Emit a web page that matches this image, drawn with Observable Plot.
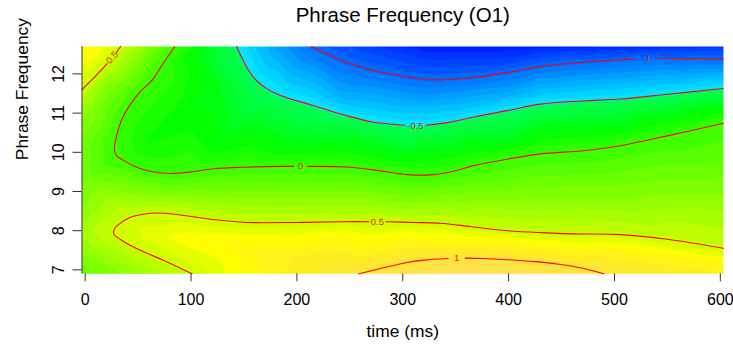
<!DOCTYPE html>
<html><head><meta charset="utf-8">
<script src="https://cdn.jsdelivr.net/npm/d3@7"></script>
<script src="https://cdn.jsdelivr.net/npm/@observablehq/plot@0.6"></script>
<style>
body{margin:0;background:#fff}
svg{font-family:"Liberation Sans",Arial,Helvetica,sans-serif}
</style>
</head><body><div id="chart"></div>
<script>
// ---------- text ----------
const title = "Phrase Frequency (O1)";
const xLabel = "time (ms)";
const yLabel = "Phrase Frequency";
const xTicks = [0, 100, 200, 300, 400, 500, 600];
const yTicks = [7, 8, 9, 10, 11, 12];
const xDomain = [-3, 603];
const yDomain = [6.9, 12.7];
const zLimits = [-1.75, 1.75];

// ---------- contour lines: [time, frequency] ----------
const lineM1a = [[214,12.70],[230,12.48],[246,12.30],[270,12.10],[300,11.94],[329,11.85],[367,11.91],[400,12.04],[430,12.19],[470,12.30],[506,12.36],[519,12.38]];
const lineM1b = [[541,12.40],[570,12.39],[603,12.38]];
const lineM05a = [[143,12.70],[150,12.30],[159,11.91],[170,11.65],[184.5,11.45],[216,11.19],[245,10.95],[270,10.78],[302,10.69]];
const lineM05b = [[322,10.69],[345,10.77],[367,10.90],[400,11.07],[430,11.23],[470,11.31],[506,11.36],[550,11.48],[603,11.63]];
const line0a = [[84.6,12.70],[72,12.20],[63.3,11.84],[52,11.55],[42.8,11.23],[34,10.80],[28.6,10.30],[27.7,10.04],[30,9.90],[36.5,9.79],[46,9.65],[58.6,9.53],[80.6,9.46],[100,9.50],[121.5,9.58],[150,9.62],[184.5,9.64],[197,9.64]];
const line0b = [[210,9.64],[250.6,9.62],[280,9.52],[304,9.43],[329,9.43],[350,9.53],[367,9.66],[400,9.83],[430,9.96],[471,10.04],[500,10.14],[550,10.42],[603,10.74]];
const line05TLa = [[-3,11.60],[10,11.95],[20.8,12.26]];
const line05TLb = [[29.5,12.55],[33.5,12.70]];
const line05a = [[101,6.90],[88,7.07],[74.3,7.24],[58,7.43],[42.8,7.62],[33,7.78],[27,7.92],[27.5,8.04],[30.2,8.13],[42.8,8.34],[55,8.42],[68,8.45],[85,8.42],[105.8,8.34],[130,8.26],[153,8.21],[200,8.21],[241,8.23],[268,8.23]];
const line05b = [[284,8.23],[310,8.21],[335.7,8.19],[365,8.10],[398.6,8.00],[430,7.95],[461.6,7.92],[506,7.90],[550,7.78],[603,7.55]];
const line1a = [[258.5,6.90],[280,7.04],[304,7.19],[320,7.25],[343,7.29]];
const line1b = [[359,7.30],[375,7.29],[398.6,7.26],[425,7.21],[445.9,7.15],[470,7.04],[490,6.90]];

const contourLines = [
  {id: "m1a", level: -1, pts: lineM1a}, {id: "m1b", level: -1, pts: lineM1b},
  {id: "m05a", level: -0.5, pts: lineM05a}, {id: "m05b", level: -0.5, pts: lineM05b},
  {id: "0a", level: 0, pts: line0a}, {id: "0b", level: 0, pts: line0b},
  {id: "tla", level: 0.5, pts: line05TLa}, {id: "tlb", level: 0.5, pts: line05TLb},
  {id: "05a", level: 0.5, pts: line05a}, {id: "05b", level: 0.5, pts: line05b},
  {id: "1a", level: 1, pts: line1a}, {id: "1b", level: 1, pts: line1b}
];

// contour labels
const labelText = ["0.5", "-1", "-0.5", "0", "0.5", "1"];
const labelX = [25.5, 530, 312, 203.5, 276, 351];
const labelY = [12.42, 12.40, 10.68, 9.64, 8.23, 7.30];
const labelAngle = [-47, 0, 0, 0, 0, 0];

// extra surface values: [time, frequency, value]
const fieldExtra = [
  [-3,12.7,0.8],[-3,12.2,0.62],[-3,11.0,0.32],[-3,10.2,0.17],[-3,9.4,0.18],[-3,8.6,0.28],[-3,8.0,0.38],[-3,7.4,0.28],[-3,6.9,0.15],
  [50,6.9,0.33],[10,10.0,0.12],[20,11.8,0.3],[50,12.55,0.3],[10,11.2,0.25],
  [60,7.9,0.6],[100,7.8,0.68],[150,7.6,0.75],[200,7.3,0.85],[180,6.9,0.82],[230,7.7,0.78],[300,7.7,0.78],
  [400,7.6,0.8],[500,7.5,0.76],[560,7.2,0.8],[603,6.9,0.85],[603,7.2,0.72],
  [300,6.9,1.1],[350,6.9,1.16],[420,6.9,1.12],[380,7.1,1.08],
  [100,8.95,0.25],[200,8.9,0.25],[300,8.8,0.25],[400,8.9,0.25],[500,8.95,0.25],[603,9.1,0.25],
  [60,10.3,-0.15],[100,11.0,-0.2],[100,12.5,-0.2],[120,10.0,-0.15],[200,10.2,-0.25],[300,10.1,-0.3],[400,10.4,-0.3],[500,10.8,-0.3],[603,11.2,-0.25],[120,11.8,-0.25],
  [180,12.6,-0.75],[240,11.5,-0.75],[300,11.3,-0.75],[400,11.5,-0.75],[500,11.85,-0.75],[603,12.0,-0.75],
  [260,12.7,-1.15],[330,12.7,-1.32],[420,12.7,-1.3],[520,12.7,-1.25],[603,12.7,-1.2]
];

// ---------- build tables ----------
const lineRows = contourLines.flatMap(c => c.pts.map(([x, y]) => ({id: c.id, level: c.level, x, y})));
const field = lineRows.map(d => ({x: d.x, y: d.y, z: d.level}))
  .concat(fieldExtra.map(([x, y, z]) => ({x, y, z})));
const labels = labelText.map((t, i) => ({text: t, x: labelX[i], y: labelY[i], angle: labelAngle[i]}));

// R topo.colors(50) palette
function hsv(h, s, v) {
  const i = Math.floor(h * 6), f = h * 6 - i;
  const p = v * (1 - s), q = v * (1 - f * s), t = v * (1 - (1 - f) * s);
  const [r, g, b] = [[v,t,p],[q,v,p],[p,v,t],[p,q,v],[t,p,v],[v,p,q]][((i % 6) + 6) % 6];
  return d3.rgb(r * 255, g * 255, b * 255).formatHex();
}
function seq(a, b, n) { return n === 1 ? [a] : d3.range(n).map(i => a + (b - a) * i / (n - 1)); }
function topoColors(n) {
  const j = Math.floor(n / 3), k = Math.floor(n / 3), i = n - j - k;
  const c1 = seq(43/60, 31/60, i).map(h => hsv(h, 1, 1));
  const c2 = seq(23/60, 11/60, j).map(h => hsv(h, 1, 1));
  const hs = seq(10/60, 6/60, k), ss = seq(1, 0.3, k);
  const c3 = hs.map((h, m) => hsv(h, ss[m], 1));
  return c1.concat(c2, c3);
}
const palette = topoColors(50);

const font = '"Liberation Sans",Arial,Helvetica,sans-serif';
const chart = Plot.plot({
  width: 733, height: 345,
  marginLeft: 81.5, marginRight: 10, marginTop: 46, marginBottom: 71.7,
  x: {domain: xDomain},
  y: {domain: yDomain},
  color: {type: "linear", domain: zLimits, clamp: true,
          interpolate: t => palette[Math.max(0, Math.min(49, Math.floor(t * 50)))]},
  style: {fontFamily: font, fontSize: "16px", color: "#000", background: "#fff"},
  marks: [
    Plot.raster(field, {x: "x", y: "y", fill: "z", interpolate: "barycentric",
      x1: xDomain[0], x2: xDomain[1], y1: yDomain[0], y2: yDomain[1], pixelSize: 1}),
    Plot.line(lineRows, {x: "x", y: "y", z: "id", stroke: "#ff0000", strokeWidth: 1.1, curve: "catmull-rom"}),
    Plot.text(labels, {x: "x", y: "y", text: "text", rotate: "angle", fill: "#e02a10", fontSize: 9.5}),
    Plot.ruleX([xDomain[0]], {stroke: "#333", strokeWidth: 1}),
    Plot.axisX({ticks: xTicks, tickSize: 8, tickPadding: 12, fontSize: 16, label: null, stroke: "#333", tickFormat: d => String(d)}),
    Plot.axisY({ticks: yTicks, tickSize: 9, tickFormat: () => "", label: null, stroke: "#333"}),
    Plot.text(yTicks, {x: xDomain[0], y: d => d, text: d => String(d), rotate: -90, dx: -23.5, fontSize: 16, fill: "#000", lineAnchor: "middle"}),
    Plot.text([xLabel], {frameAnchor: "bottom", text: d => d, dy: 62.7, lineAnchor: "bottom", fontSize: 17.4, fill: "#000"}),
    Plot.text([yLabel], {frameAnchor: "left", text: d => d, rotate: -90, dx: -60, lineAnchor: "middle", fontSize: 17.4, fill: "#000"}),
    Plot.text([title], {frameAnchor: "top", text: d => d, dy: -25, lineAnchor: "bottom", fontSize: 20.5, fill: "#000"})
  ]
});
document.getElementById("chart").appendChild(chart);
</script>
</body></html>
